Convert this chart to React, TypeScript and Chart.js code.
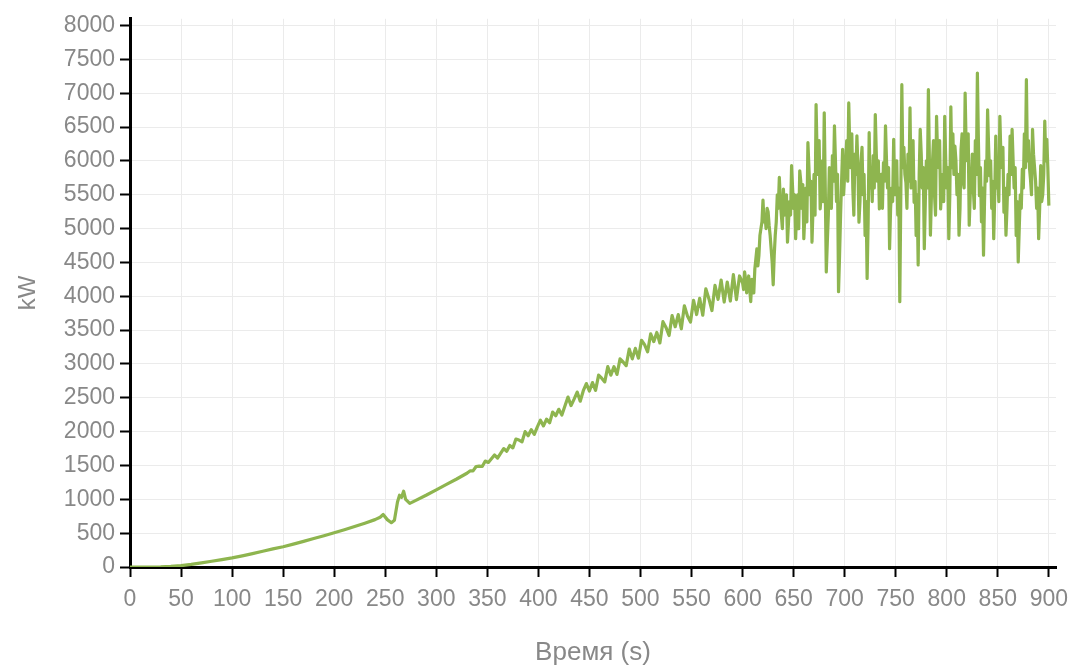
import React, { useEffect, useRef } from "react";
import { Chart, registerables } from "chart.js";

Chart.register(...registerables);

// Smooth start-up segment (explicit times, seconds)
const startTimes = [0, 10, 20, 30, 40, 50, 60, 70, 80, 90, 100, 110, 120, 130, 140, 150, 160, 170, 180, 190, 200, 210, 220, 230, 240, 245, 248, 252, 256, 259, 262, 264, 266, 268, 270, 274, 280, 290, 300, 310, 320, 330];
const startPower = [0, 0, 0, 2, 8, 20, 38, 60, 85, 110, 135, 165, 198, 232, 267, 300, 338, 378, 420, 462, 505, 550, 598, 648, 700, 735, 775, 700, 655, 690, 960, 1060, 1030, 1120, 1000, 940, 985, 1060, 1140, 1220, 1300, 1385];

// Ramp segment 333 s .. 597 s, every 3 s
const rampStart = 333;
const rampStep = 3;
const rampPower = [
  1420, 1420, 1485, 1490, 1485, 1565, 1545, 1600, 1655, 1610, 1680, 1750, 1710, 1795, 1760, 1890, 1875, 1850, 2000, 1940,
  2030, 1960, 2070, 2170, 2085, 2185, 2130, 2290, 2235, 2330, 2245, 2380, 2510, 2385, 2480, 2585, 2450, 2605, 2710, 2600,
  2725, 2610, 2835, 2790, 2735, 2960, 2835, 2960, 2845, 3075, 3030, 2975, 3220, 3075, 3230, 3085, 3350, 3285, 3180, 3445,
  3330, 3465, 3310, 3625, 3540, 3420, 3715, 3550, 3730, 3520, 3860, 3710, 3620, 3940, 3730, 3970, 3720, 4110, 3965, 3790,
  4160, 3955, 4240, 3915, 4210, 3930, 4320, 3950, 4300,
];

// Full-power segment 600 s .. 900 s, every 1 s
const noisyStart = 600;
const noisyStep = 1;
const noisyPower = [
  4200, 4100, 4360, 4250, 4050, 4200, 4300, 4100, 3920, 4250,
  4150, 4050, 4400, 4550, 4700, 4450, 4600, 4900, 5000, 5100,
  5420, 5100, 5200, 5000, 5300, 5250, 5050, 4900, 4700, 4500,
  4170, 4600, 4900, 5100, 5500, 5300, 5756, 5400, 5198, 5000,
  5585, 5200, 5300, 5500, 4800, 5100, 5400, 5200, 5930, 5600,
  5300, 5500, 4850, 5300, 5500, 5000, 5855, 5700, 5300, 5650,
  4850, 5200, 5600, 5100, 6270, 5900, 5500, 5700, 4800, 5300,
  5800, 5200, 6833, 6100, 5800, 6300, 5290, 5500, 6000, 5400,
  6710, 5600, 4360, 4800, 5200, 5900, 5600, 5300, 6080, 5700,
  6520, 6000, 5400, 5800, 4067, 4600, 5200, 5700, 6170, 5500,
  5800, 6000, 6300, 5700, 6857, 6200, 5900, 6400, 5585, 5200,
  6100, 5800, 6370, 5900, 5095, 5400, 5976, 6200, 5500, 5800,
  4900, 5400, 4263, 5100, 6417, 5600, 5900, 5400, 6078, 5600,
  6686, 6100, 5700, 6000, 5290, 5600, 5800, 5300, 5976, 5700,
  6520, 6000, 5600, 5900, 4703, 5300, 5600, 5400, 6318, 5500,
  5878, 6000, 5200, 5600, 3920, 5500, 7126, 5900, 6200, 5800,
  5682, 5300, 6100, 5700, 6784, 5600, 6000, 6300, 5389, 5700,
  4900, 5500, 4464, 5800, 6466, 6100, 5600, 5900, 4703, 5400,
  6000, 5600, 7053, 6000, 4904, 5500, 5976, 6300, 5500, 5200,
  6660, 6100, 5900, 6300, 5290, 5600, 5800, 5400, 6660, 6000,
  5600, 5900, 4850, 5500, 6800, 5900, 6400, 5800, 6220, 6000,
  5500, 5800, 4904, 5300, 6171, 6400, 5700, 5600, 7004, 6200,
  6000, 6400, 5050, 5500, 5700, 6100, 5585, 5300, 6300, 5800,
  7298, 6300, 5487, 5900, 5100, 5600, 4606, 5400, 6000, 5700,
  6754, 6200, 5780, 6000, 5300, 5700, 4850, 5500, 6366, 5600,
  5800, 5400, 6660, 6100, 5900, 6200, 5242, 5600, 4904, 5300,
  5800, 5500, 6366, 5800, 6466, 6000, 5600, 5900, 4900, 5400,
  4508, 5000, 5500, 5300, 5878, 5600, 6400, 5900, 7200, 6000,
  6300, 5900, 5731, 5500, 6466, 6100, 5900, 5700, 5300, 5600,
  4850, 5300, 5930, 5400, 5500, 5800, 6590, 6000, 6318, 5900,
  5340,
];

const xTickStep = 50;
const xTickMax = 900;
const yTickStep = 500;
const yTickMax = 8000;

const xTitle = "Время (s)";
const yTitle = "kW";

function makeTicks(step: number, max: number) {
  const out: { value: number }[] = [];
  for (let v = 0; v <= max; v += step) out.push({ value: v });
  return out;
}

export default function App() {
  const ref = useRef<HTMLCanvasElement | null>(null);

  useEffect(() => {
    document.body.style.margin = "0";
    const points: { x: number; y: number }[] = [];
    startTimes.forEach((t, i) => points.push({ x: t, y: startPower[i] }));
    rampPower.forEach((v, i) => points.push({ x: rampStart + rampStep * i, y: v }));
    noisyPower.forEach((v, i) => points.push({ x: noisyStart + noisyStep * i, y: v }));

    const family = "'Liberation Sans', Arial, sans-serif";
    const tickFont = { family, size: 23 };
    const plain = (v: any) => String(v);
    const chart = new Chart(ref.current as HTMLCanvasElement, {
      type: "line",
      data: {
        datasets: [
          {
            data: points,
            borderColor: "#8eb54f",
            borderWidth: 3.2,
            pointRadius: 0,
            tension: 0,
            borderJoinStyle: "round",
          },
        ],
      },
      options: {
        responsive: false,
        animation: false,
        layout: { padding: { left: 0, top: 15, right: 22, bottom: 0 } },
        plugins: { legend: { display: false }, tooltip: { enabled: false } },
        scales: {
          x: {
            type: "linear",
            min: 0,
            max: xTickMax + 7,
            afterBuildTicks: (s: any) => {
              s.ticks = makeTicks(xTickStep, xTickMax);
            },
            afterFit: (s: any) => {
              s.height = 105;
            },
            ticks: { color: "#888", font: tickFont, padding: 9, maxRotation: 0, autoSkip: false, callback: plain },
            grid: { color: "#ebebeb", tickColor: "#000", tickLength: 10, tickWidth: 2 },
            border: { color: "#000", width: 3 },
            title: {
              display: true,
              text: xTitle,
              color: "#888",
              font: { family, size: 26 },
              padding: { top: 4, bottom: 4 },
            },
          },
          y: {
            type: "linear",
            min: 0,
            max: yTickMax + 100,
            afterBuildTicks: (s: any) => {
              s.ticks = makeTicks(yTickStep, yTickMax);
            },
            afterFit: (s: any) => {
              s.width = 130;
            },
            ticks: { color: "#888", font: tickFont, padding: 5, autoSkip: false, callback: plain },
            grid: { color: "#ebebeb", tickColor: "#000", tickLength: 10, tickWidth: 2 },
            border: { color: "#000", width: 3 },
            title: {
              display: true,
              text: yTitle,
              color: "#888",
              font: { family, size: 24 },
              padding: { top: 14, bottom: 0 },
            },
          },
        },
      },
    } as any);
    return () => chart.destroy();
  }, []);

  return (
    <div style={{ width: 1078, height: 672 }}>
      <canvas ref={ref} width={1078} height={672} />
    </div>
  );
}
